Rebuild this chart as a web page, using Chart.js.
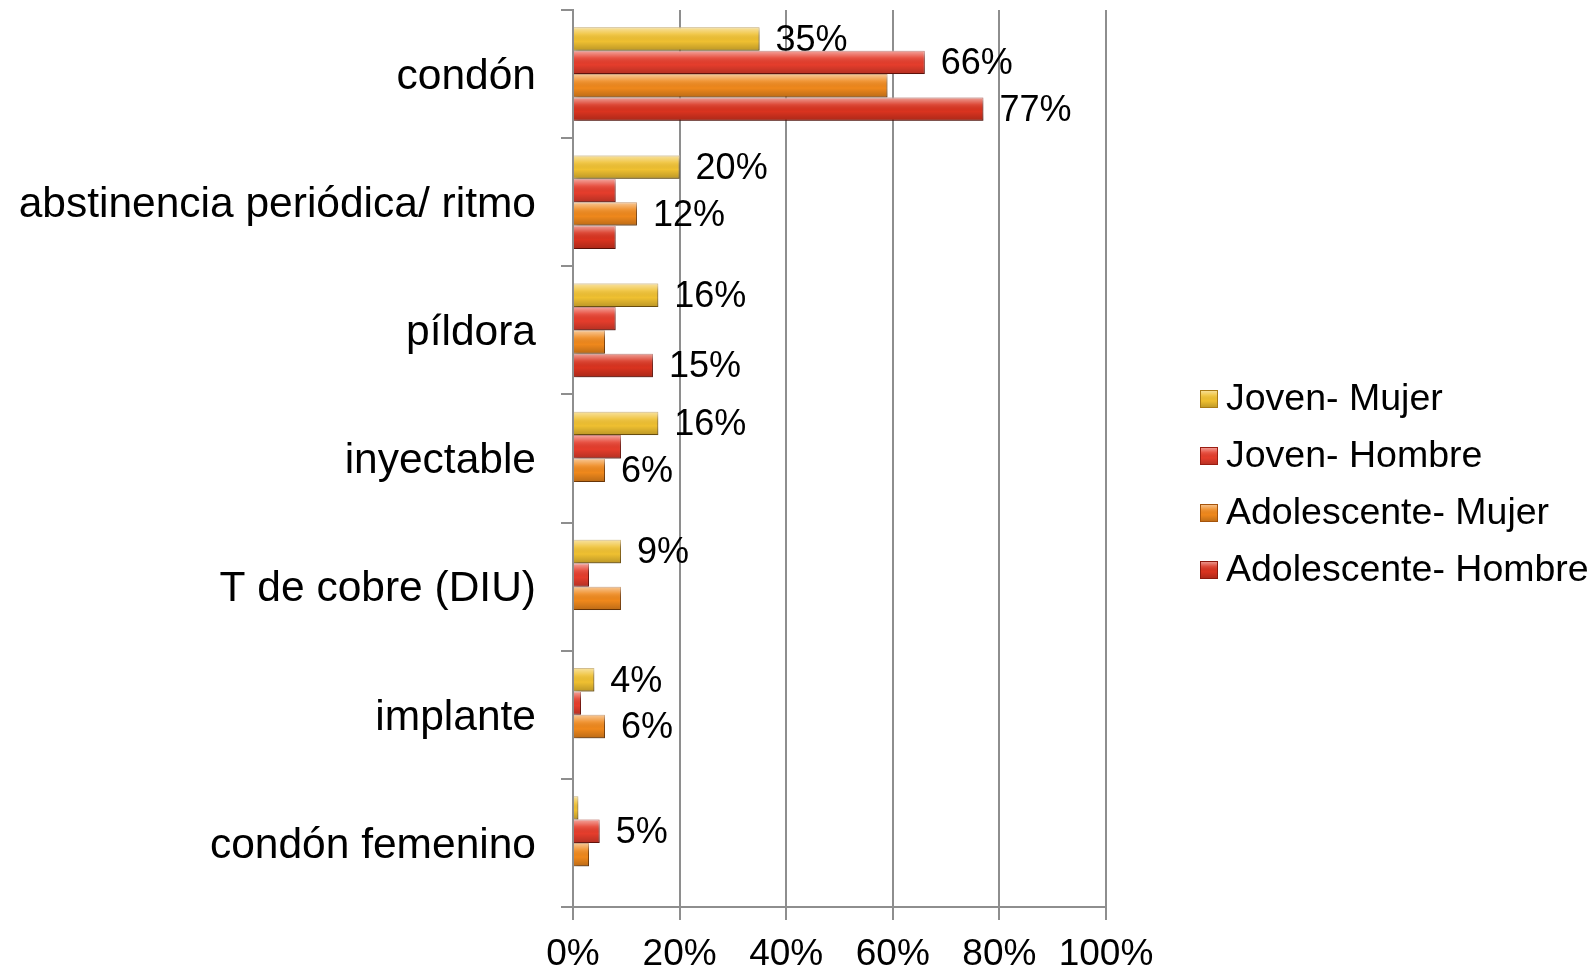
<!DOCTYPE html>
<html>
<head>
<meta charset="utf-8">
<script src="https://cdn.jsdelivr.net/npm/chart.js@4.4.1/dist/chart.umd.min.js"></script>
<style>
  html, body { margin: 0; padding: 0; background: #fff; }
  #wrap { width: 1596px; height: 969px; position: relative; }
</style>
</head>
<body>
<div id="wrap"><canvas id="chart"></canvas></div>
<script>
const categories = ['condón', 'abstinencia periódica/ ritmo', 'píldora', 'inyectable', 'T de cobre (DIU)', 'implante', 'condón femenino'];
const seriesNames = ['Joven- Mujer', 'Joven- Hombre', 'Adolescente- Mujer', 'Adolescente- Hombre'];

const jovenMujer = [35, 20, 16, 16, 9, 4, 1];
const jovenHombre = [66, 8, 8, 9, 3, 1.5, 5];
const adolescenteMujer = [59, 12, 6, 6, 9, 6, 3];
const adolescenteHombre = [77, 8, 15, 0, 0, 0, 0];

// which bars carry a value label
const showJovenMujer = [1, 1, 1, 1, 1, 1, 0];
const showJovenHombre = [1, 0, 0, 0, 0, 0, 1];
const showAdolescenteMujer = [0, 1, 0, 1, 0, 1, 0];
const showAdolescenteHombre = [1, 0, 1, 0, 0, 0, 0];

const xTicks = [0, 20, 40, 60, 80, 100];

const fillColors = ['#efc031', '#e53d2c', '#ef881c', '#d9331f'];
const edgeColors = ['#a97b16', '#9a1d12', '#a5540b', '#8c1a0e'];

const FONT = '"Liberation Sans", Arial, sans-serif';
const GRID = '#8e8e8e';

function bevel(ctx, x, y, w, h) {
  const g = ctx.createLinearGradient(0, y, 0, y + h);
  g.addColorStop(0, 'rgba(255,255,255,0.55)');
  g.addColorStop(0.3, 'rgba(255,255,255,0.12)');
  g.addColorStop(0.6, 'rgba(0,0,0,0)');
  g.addColorStop(1, 'rgba(0,0,0,0.22)');
  ctx.fillStyle = g;
  ctx.fillRect(x, y, w, h);
}

const barLook = {
  id: 'barLook',
  beforeDatasetsDraw(chart) {
    const ctx = chart.ctx;
    ctx.save();
    ctx.shadowColor = 'rgba(0,0,0,0.3)';
    ctx.shadowBlur = 4;
    ctx.shadowOffsetX = 2;
    ctx.shadowOffsetY = 2;
  },
  afterDatasetsDraw(chart) {
    const ctx = chart.ctx;
    ctx.restore();
    const flags = [showJovenMujer, showJovenHombre, showAdolescenteMujer, showAdolescenteHombre];
    chart.data.datasets.forEach((ds, i) => {
      const meta = chart.getDatasetMeta(i);
      meta.data.forEach((bar, j) => {
        const v = ds.data[j];
        if (v > 0) {
          const top = bar.y - bar.height / 2;
          ctx.save();
          bevel(ctx, bar.base, top, bar.x - bar.base, bar.height);
          ctx.restore();
        }
        if (flags[i][j]) {
          ctx.save();
          ctx.font = '36px ' + FONT;
          ctx.fillStyle = '#000';
          ctx.textAlign = 'left';
          ctx.textBaseline = 'middle';
          ctx.fillText(Math.round(v) + '%', bar.x + 16, bar.y + 2);
          ctx.restore();
        }
      });
    });
  }
};

const sideLegend = {
  id: 'sideLegend',
  afterDraw(chart) {
    const ctx = chart.ctx;
    const mid = chart.height / 2;
    const step = 57;
    chart.data.datasets.forEach((ds, i) => {
      const y = mid + (i - 1.5) * step;
      ctx.save();
      ctx.fillStyle = fillColors[i];
      ctx.fillRect(1200, y - 9, 18, 18);
      bevel(ctx, 1200, y - 9, 18, 18);
      ctx.strokeStyle = edgeColors[i];
      ctx.lineWidth = 1;
      ctx.strokeRect(1200.5, y - 8.5, 17, 17);
      ctx.font = '37.5px ' + FONT;
      ctx.fillStyle = '#000';
      ctx.textAlign = 'left';
      ctx.textBaseline = 'middle';
      ctx.fillText(ds.label, 1226, y + 1);
      ctx.restore();
    });
  }
};

const seriesData = [jovenMujer, jovenHombre, adolescenteMujer, adolescenteHombre];

new Chart(document.getElementById('chart'), {
  type: 'bar',
  data: {
    labels: categories,
    datasets: seriesData.map((d, i) => ({
      label: seriesNames[i],
      data: d,
      backgroundColor: fillColors[i],
      borderColor: edgeColors[i],
      borderWidth: 1,
      barPercentage: 1,
      categoryPercentage: 0.73
    }))
  },
  options: {
    indexAxis: 'y',
    responsive: true,
    maintainAspectRatio: false,
    animation: false,
    layout: { padding: { top: 10, right: 490, left: 0, bottom: 0 } },
    plugins: {
      legend: { display: false },
      tooltip: { enabled: false }
    },
    scales: {
      x: {
        min: 0,
        max: 100,
        afterBuildTicks(scale) {
          scale.ticks = xTicks.map(v => ({ value: v }));
        },
        afterFit(scale) {
          scale.height = 62;
          scale.paddingLeft = 0;
        },
        ticks: {
          color: '#000',
          font: { family: FONT, size: 37 },
          padding: 13,
          maxRotation: 0,
          callback: v => v + '%'
        },
        grid: { color: GRID, lineWidth: 2, tickLength: 13 },
        border: { color: GRID, width: 2 }
      },
      y: {
        afterFit(scale) {
          scale.width = 573;
          scale.paddingTop = 0;
          scale.paddingBottom = 0;
        },
        ticks: {
          color: '#000',
          font: { family: FONT, size: 42.5 },
          padding: 25,
          labelOffset: 3
        },
        grid: { color: GRID, lineWidth: 2, tickLength: 12, drawOnChartArea: false, offset: true },
        border: { color: GRID, width: 2 }
      }
    }
  },
  plugins: [barLook, sideLegend]
});
</script>
</body>
</html>
